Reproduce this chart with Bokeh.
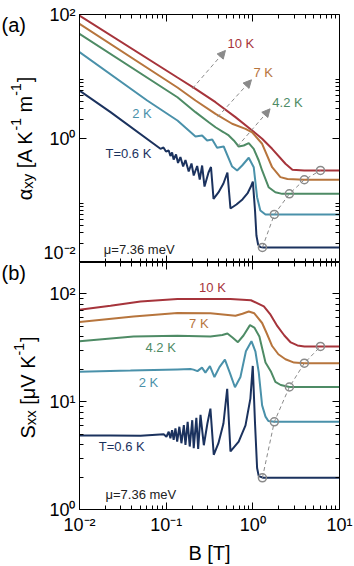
import math
from bokeh.plotting import figure
from bokeh.models import (LogAxis, FixedTicker, Label, Arrow, NormalHead, Range1d,
                          CustomJSTickFormatter)
from bokeh.layouts import column, row
from bokeh.embed import file_html
from bokeh.resources import INLINE

FONT = "Liberation Sans"

# ---------------- data ----------------
# panel (a): alpha_xy [A K^-1 m^-1] vs B [T]
B_a10 = [0.01, 0.1349, 0.218, 0.371, 0.630, 0.982, 1.28, 1.67, 2.38, 2.86, 3.91, 10]
a_10 = [96.3, 9.64, 6.33, 3.85, 2.21, 1.35, 0.99, 0.682, 0.391, 0.313, 0.305, 0.305]

B_a7 = [0.01, 0.1349, 0.218, 0.371, 0.577, 0.823, 0.982, 1.28, 1.67, 2.08, 2.51, 3.91, 10]
a_7 = [70.8, 6.65, 4.10, 2.50, 1.73, 1.43, 1.26, 0.822, 0.344, 0.238, 0.222, 0.216, 0.216]

B_a42 = [0.01, 0.1349, 0.218, 0.310, 0.371, 0.461, 0.527, 0.603, 0.687, 0.785, 0.897,
         1.024, 1.17, 1.28, 1.52, 1.82, 2.18, 10]
a_42 = [48.8, 4.63, 2.66, 1.83, 1.52, 1.26, 1.12, 0.929, 0.743, 0.771, 0.840,
        0.682, 0.442, 0.305, 0.164, 0.136, 0.128, 0.128]

B_a2 = [0.01, 0.0604, 0.1349, 0.218, 0.260, 0.297, 0.340, 0.387, 0.461, 0.577, 0.659,
        0.753, 0.897, 1.024, 1.12, 1.22, 1.40, 10]
a_2 = [24.7, 4.10, 1.95, 1.08, 1.12, 0.929, 0.963, 0.708, 0.743, 0.353, 0.305,
       0.367, 0.489, 0.344, 0.113, 0.069, 0.0595, 0.0595]

B_a06 = [0.01, 0.0228, 0.0859, 0.0931, 0.0995, 0.107, 0.112, 0.117, 0.122, 0.130, 0.137,
         0.146, 0.157, 0.167, 0.182, 0.196, 0.208, 0.228, 0.244, 0.260, 0.277, 0.308,
         0.329, 0.352, 0.401, 0.458, 0.509, 0.552, 0.647, 0.759, 0.867, 0.950, 1.00,
         1.06, 1.10, 1.15, 1.22, 1.32, 10]
a_06 = [5.94, 2.66, 0.682, 0.716, 0.617, 0.640, 0.522, 0.595, 0.458, 0.552, 0.403,
        0.503, 0.353, 0.450, 0.294, 0.395, 0.253, 0.360, 0.218, 0.367, 0.168, 0.283,
        0.347, 0.106, 0.135, 0.188, 0.283, 0.0743, 0.0862, 0.104, 0.130, 0.168, 0.202,
        0.069, 0.0272, 0.0195, 0.0177, 0.0175, 0.0175]

# panel (b): S_xx [uV K^-1] vs B [T]
B_b10 = [0.01, 0.0228, 0.0506, 0.1349, 0.552, 0.95, 1.34, 1.60, 1.92, 2.31, 2.74, 3.27, 3.94, 10]
S_10 = [71.3, 77.6, 85.3, 90.0, 90.0, 87.5, 76.8, 64.2, 50.3, 41.2, 35.5, 33.3, 32.6, 32.6]

B_b7 = [0.01, 0.0420, 0.1349, 0.324, 0.630, 0.759, 0.897, 1.04, 1.28, 1.45, 1.67, 1.97,
        2.38, 2.99, 3.91, 10]
S_7 = [55.0, 61.9, 66.5, 66.2, 62.9, 65.6, 68.8, 66.2, 53.8, 43.0, 32.9, 27.6,
       24.8, 23.1, 22.8, 22.8]

B_b42 = [0.01, 0.0420, 0.1349, 0.324, 0.445, 0.509, 0.582, 0.673, 0.780, 0.927, 1.04,
         1.19, 1.40, 1.61, 1.82, 2.10, 2.64, 10]
S_42 = [36.5, 40.3, 40.9, 40.3, 41.6, 43.0, 39.5, 35.7, 41.2, 51.4, 48.8,
        40.3, 23.1, 19.2, 15.3, 14.3, 13.7, 13.7]

B_b2 = [0.01, 0.0387, 0.1349, 0.1905, 0.2065, 0.2296, 0.2589, 0.2836, 0.3198, 0.3606,
        0.4121, 0.4764, 0.5445, 0.6223, 0.7194, 0.8318, 0.964, 1.07, 1.17, 1.28, 1.40,
        1.51, 1.77, 10]
S_2 = [18.97, 19.45, 19.95, 20.1, 19.87, 19.24, 20.73, 18.65, 21.39, 16.96,
       20.94, 24.55, 18.45, 13.64, 16.96, 29.37, 36.5, 29.4, 18.7, 9.25, 7.28,
       6.62, 6.51, 6.51]

B_b06 = [0.01, 0.0228, 0.0506, 0.0937, 0.1007, 0.107, 0.112, 0.117, 0.122, 0.128, 0.134,
         0.142, 0.150, 0.160, 0.167, 0.177, 0.187, 0.200, 0.208, 0.223, 0.234, 0.249,
         0.272, 0.299, 0.324, 0.354, 0.401, 0.458, 0.506, 0.552, 0.687, 0.823, 0.937,
         0.998, 1.06, 1.12, 1.17, 1.32, 10]
S_06 = [4.85, 4.85, 4.83, 4.98, 4.73, 5.27, 4.58, 5.45, 4.42, 5.65, 4.27,
        5.86, 4.12, 6.06, 3.97, 6.51, 3.84, 6.74, 3.71, 7.09, 3.65, 7.55,
        3.95, 6.28, 8.63, 3.22, 4.12, 6.28, 13.2, 3.46, 4.27, 6.03, 10.7,
        21.5, 6.28, 2.43, 2.04, 1.97, 1.97]

# onset markers (open circles joined by a dashed line)
B_onset = [1.29, 1.77, 2.64, 3.93, 6.03]
a_onset = [0.0175, 0.0595, 0.128, 0.216, 0.305]
S_onset = [1.97, 6.51, 13.7, 22.8, 32.6]

# temperature arrows in panel (a): tail (B, alpha) -> head (B, alpha)
arrow_B0 = [0.201, 0.391, 0.664]
arrow_a0 = [6.40, 2.21, 0.743]
arrow_B1 = [0.483, 0.964, 1.58]
arrow_a1 = [26.3, 8.85, 3.01]

# ticks
x_major = [0.01, 0.1, 1, 10]
x_minor = [m * d for d in (0.01, 0.1, 1) for m in range(2, 10)]
x_labels = {0.01: "10⁻²", 0.1: "10⁻¹", 1: "10⁰", 10: "10¹"}
ya_major = [0.01, 1, 100]
ya_minor = [m * d for d in (0.01, 1) for m in range(2, 10)]
ya_labels = {0.01: "10⁻²", 1: "10⁰", 100: "10²"}
yb_major = [1, 10, 100]
yb_minor = [m * d for d in (1, 10) for m in range(2, 10)]
yb_labels = {1: "10⁰", 10: "10¹", 100: "10²"}

# ---------------- styling ----------------
C10, C7, C42, C2, C06 = "#a6343b", "#b7753d", "#4e8b65", "#4a91aa", "#1b325e"
GREY = "#8a8a8a"
SIDE_W = 40

EMW = {'α': 0.578, 'x': 0.5, 'y': 0.5, ' ': 0.278, '[': 0.278, ']': 0.278, 'A': 0.667,
       'K': 0.667, '-': 0.333, '1': 0.556, 'm': 0.833, 'S': 0.667, 'μ': 0.576, 'V': 0.667}
def tlen(s, size):
    return sum(EMW[c] for c in s) * size


def style_axis(ax, ticker, labels=None, size="18px", fixed=None):
    ax.ticker = ticker
    ax.major_tick_in = 7
    ax.major_tick_out = 0
    ax.minor_tick_in = 4
    ax.minor_tick_out = 0
    ax.axis_line_color = "black"
    ax.major_tick_line_color = "black"
    ax.minor_tick_line_color = "black"
    ax.axis_line_width = 1
    if labels:
        ax.major_label_overrides = labels
        ax.major_label_text_font = FONT
        ax.major_label_text_font_size = size
        ax.major_label_text_color = "black"
        ax.major_label_standoff = 4
    else:
        ax.formatter = CustomJSTickFormatter(code="return ''")
        ax.major_label_text_font_size = "0px"
        ax.major_label_standoff = 0
        ax.fixed_location = fixed


def base_fig(h, yr, top, bottom):
    p = figure(width=354 - SIDE_W, height=h, x_axis_type="log", y_axis_type="log",
               x_range=Range1d(0.01, 10), y_range=Range1d(*yr),
               output_backend="svg", toolbar_location=None,
               min_border_left=79 - SIDE_W, min_border_right=15,
               min_border_top=top, min_border_bottom=bottom)
    p.grid.visible = False
    p.outline_line_color = "black"
    p.background_fill_color = "white"
    p.border_fill_color = "white"
    return p


def add_box_axes(p, yr, ylabels, xlabels):
    yt = FixedTicker(ticks=yr[0], minor_ticks=yr[1])
    xt = FixedTicker(ticks=x_major, minor_ticks=x_minor)
    bottom = p.below[0]
    style_axis(bottom, xt, xlabels, fixed=yr[2])
    style_axis(p.left[0], yt, ylabels)
    top = LogAxis()
    style_axis(top, xt, fixed=yr[3])
    p.add_layout(top, "above")
    right = LogAxis()
    style_axis(right, yt, fixed=10)
    p.add_layout(right, "right")
    return bottom


def tlabel(p, x, y, text, color, size="13px"):
    p.add_layout(Label(x=x, y=y, text=text, text_color=color, text_font=FONT,
                       text_font_size=size, text_align="left", text_baseline="middle"))


# ---------------- side strip with panel letters and y-axis titles ----------------
pl = figure(width=SIDE_W, height=566, x_range=Range1d(0, SIDE_W), y_range=Range1d(566, 0),
            output_backend="svg", toolbar_location=None, min_border=0,
            x_axis_location=None, y_axis_location=None)
pl.grid.visible = False
pl.outline_line_color = None
pl.border_fill_color = "white"
pl.background_fill_color = "white"


def vlabel(pieces, x_base, yc):
    # pieces: (text, font size, baseline shift, gap before)
    total = sum(tlen(t, s) + g for t, s, d, g in pieces)
    y = yc + total / 2
    for t, s, d, g in pieces:
        y -= g
        pl.add_layout(Label(x=x_base + d, y=y, text=t, angle=math.pi / 2,
                            text_font=FONT, text_font_size=f"{s}px", text_align="left",
                            text_baseline="alphabetic", text_color="black"))
        y -= tlen(t, s)


SP = 5.5
tlabel(pl, 1, 24, "(a)", "black", "20px")
tlabel(pl, 1, 272, "(b)", "black", "20px")
vlabel([("α", 20, 0, 0), ("xy", 15, 3, 0), ("[A K", 20, 0, SP), ("-1", 14, -9, 0),
        ("m", 20, 0, SP), ("-1", 14, -9, 0), ("]", 20, 0, 1)], 24, 138)
vlabel([("S", 20, 0, 0), ("xx", 15, 3, 0), ("[μV K", 20, 0, SP), ("-1", 14, -9, 0),
        ("]", 20, 0, 1)], 27, 387)

# ---------------- panel (a) ----------------
pa = base_fig(262, (0.01, 100), 14, 0)
add_box_axes(pa, (ya_major, ya_minor, 0.01, 100), ya_labels, None)

for Bs, vs, c in ((B_a10, a_10, C10), (B_a7, a_7, C7), (B_a42, a_42, C42),
                  (B_a2, a_2, C2), (B_a06, a_06, C06)):
    pa.line(Bs, vs, line_color=c, line_width=2)
pa.line(B_onset, a_onset, line_color=GREY, line_width=1, line_dash="4 3")
pa.scatter(B_onset, a_onset, marker="circle", size=8, fill_color=None,
           line_color=GREY, line_width=1.5)
for i in range(3):
    pa.add_layout(Arrow(end=NormalHead(size=8, fill_color=GREY, line_color=GREY),
                        x_start=arrow_B0[i], y_start=arrow_a0[i],
                        x_end=arrow_B1[i], y_end=arrow_a1[i],
                        line_color=GREY, line_width=1, line_dash="4 3"))

tlabel(pa, 0.509, 34.0, "10 K", C10)
tlabel(pa, 1.016, 11.7, "7 K", C7)
tlabel(pa, 1.68, 3.81, "4.2 K", C42)
tlabel(pa, 0.0406, 2.50, "2 K", C2)
tlabel(pa, 0.01995, 0.583, "T=0.6 K", C06)
tlabel(pa, 0.0191, 0.0162, "μ=7.36 meV", "#222222")

# ---------------- panel (b) ----------------
pb = base_fig(304, (1, 196), 0, 54)
xb = add_box_axes(pb, (yb_major, yb_minor, None, 196), yb_labels, x_labels)
xb.axis_label = "B [T]"
xb.axis_label_text_font = FONT
xb.axis_label_text_font_size = "20px"
xb.axis_label_text_font_style = "normal"
xb.axis_label_text_color = "black"
xb.axis_label_standoff = 4
xb.major_label_standoff = 5

for Bs, vs, c in ((B_b10, S_10, C10), (B_b7, S_7, C7), (B_b42, S_42, C42),
                  (B_b2, S_2, C2), (B_b06, S_06, C06)):
    pb.line(Bs, vs, line_color=c, line_width=2)
pb.line(B_onset, S_onset, line_color=GREY, line_width=1, line_dash="4 3")
pb.scatter(B_onset, S_onset, marker="circle", size=8, fill_color=None,
           line_color=GREY, line_width=1.5)

tlabel(pb, 0.240, 114.2, "10 K", C10)
tlabel(pb, 0.184, 53.8, "7 K", C7)
tlabel(pb, 0.0577, 31.8, "4.2 K", C42)
tlabel(pb, 0.0483, 15.2, "2 K", C2)
tlabel(pb, 0.0167, 3.84, "T=0.6 K", C06)
tlabel(pb, 0.01995, 1.38, "μ=7.36 meV", "#222222")

layout = row(pl, column(pa, pb, spacing=0), spacing=0)
with open("out.html", "w") as f:
    f.write(file_html(layout, INLINE))
